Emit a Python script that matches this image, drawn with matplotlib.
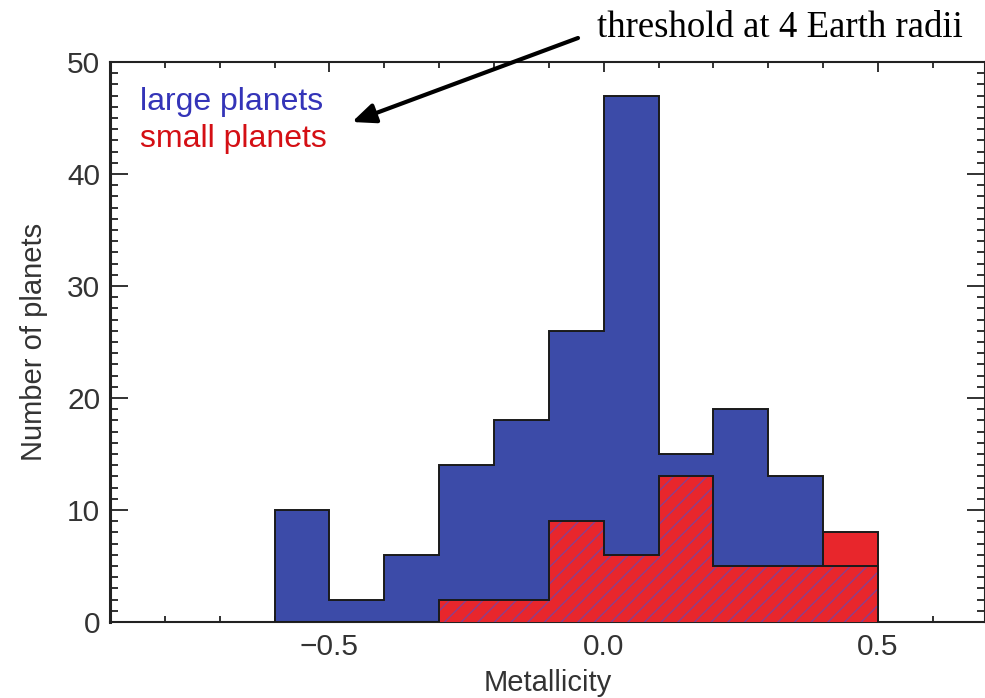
import numpy as np
import matplotlib
matplotlib.use("Agg")
import matplotlib.pyplot as plt
from matplotlib.ticker import MultipleLocator

# ---- data ----
bin_edges = [-0.6, -0.5, -0.4, -0.3, -0.2, -0.1, 0.0, 0.1, 0.2, 0.3, 0.4, 0.5]
large_planets = [10, 2, 6, 14, 18, 26, 47, 15, 19, 13, 5]
small_planets = [0, 0, 0, 2, 2, 9, 6, 13, 5, 5, 8]
x_ticks = [-0.5, 0.0, 0.5]
x_tick_labels = ["\u22120.5", "0.0", "0.5"]
y_ticks = [0, 10, 20, 30, 40, 50]

BLUE = "#3c4ba8"
RED = "#e8262c"
HATCH = "#8a3f8c"

plt.rcParams['font.family'] = ['Liberation Sans', 'DejaVu Sans']
plt.rcParams['hatch.linewidth'] = 1.0

W, H = 985, 698
fig = plt.figure(figsize=(W / 100, H / 100), dpi=100)
ax = fig.add_axes([110 / W, 76 / H, (985 - 110) / W, (622 - 62) / H])

edges = np.array(bin_edges)
large = np.array(large_planets)
small = np.array(small_planets)

ax.stairs(large, edges, fill=True, facecolor=BLUE, edgecolor='none', linewidth=0, zorder=2)
ax.stairs(small, edges, fill=True, facecolor=RED, edgecolor='none', linewidth=0, zorder=3)
overlap = np.minimum(large, small)
ax.bar(edges[:-1], overlap, width=np.diff(edges), align='edge', facecolor='none',
       edgecolor=HATCH, linewidth=0, hatch='//', zorder=4)
ax.stairs(large, edges, fill=False, edgecolor='#1a1a1a', linewidth=1.4, zorder=5)
ax.stairs(small, edges, fill=False, edgecolor='#1a1a1a', linewidth=1.4, zorder=5)

ax.set_xlim(-0.9, 0.695)
ax.set_ylim(0, 50)
ax.set_xticks(x_ticks)
ax.set_xticklabels(x_tick_labels)
ax.set_yticks(y_ticks)
ax.xaxis.set_minor_locator(MultipleLocator(0.1))
ax.yaxis.set_minor_locator(MultipleLocator(1))

ax.tick_params(axis='both', which='both', direction='in', top=True, right=True,
               colors='#222222', labelcolor='#333333', labelsize=21.5)
ax.tick_params(axis='y', which='major', length=13, width=1.3, pad=7)
ax.tick_params(axis='y', which='minor', length=6, width=1.3)
ax.tick_params(axis='x', which='major', length=7, width=1.3, pad=8)
ax.tick_params(axis='x', which='minor', length=4.5, width=1.3)
for s in ax.spines.values():
    s.set_linewidth(1.5)
    s.set_color('#222222')
ax.spines['left'].set_linewidth(2.2)

ax.set_xlabel("Metallicity", fontsize=21, color='#333333', labelpad=6)
ax.set_ylabel("Number of planets", fontsize=21, color='#333333', labelpad=14)

fig.text(140 / W, 1 - 110 / H, "large planets", fontsize=23, color='#3434b8',
         ha='left', va='baseline')
fig.text(140 / W, 1 - 147 / H, "small planets", fontsize=23, color='#d40f14',
         ha='left', va='baseline')

fig.text(597 / W, 1 - 28 / H, "threshold at 4 Earth radii", fontsize=26.5,
         family=['Liberation Serif', 'DejaVu Serif'], color='black',
         ha='left', va='center')
fig.add_artist(matplotlib.patches.FancyArrowPatch(
    (578 / W, 1 - 38 / H), (352 / W, 1 - 122 / H), transform=fig.transFigure,
    arrowstyle='-|>,head_length=14,head_width=6', color='black', linewidth=3,
    mutation_scale=1, shrinkA=0, shrinkB=0))

fig.savefig("out.png", dpi=100)
